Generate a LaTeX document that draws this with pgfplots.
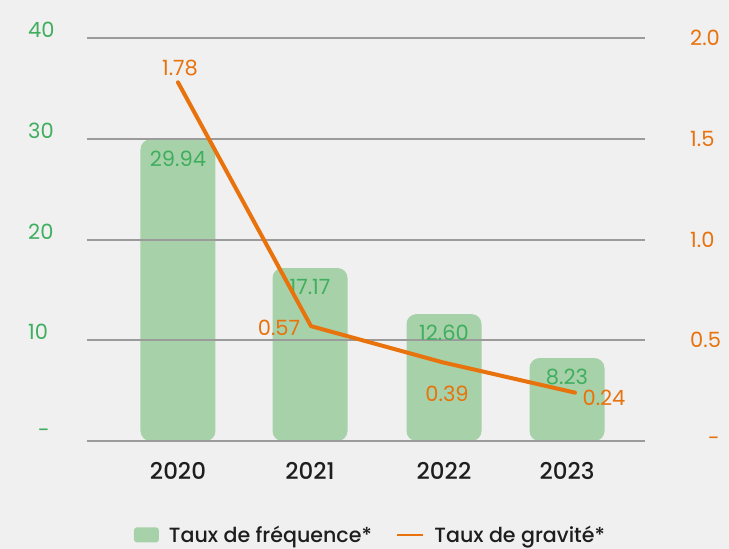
\documentclass[border=0pt]{standalone}
\usepackage{fontspec}
\setmainfont{Poppins}
\newfontfamily\medfont{Poppins Medium}
\usepackage{pgfplots}
\pgfplotsset{compat=1.18}
\definecolor{bg}{HTML}{F0F0F0}
\definecolor{barg}{HTML}{A7D1A9}
\definecolor{txtg}{HTML}{3FAE5E}
\definecolor{org}{HTML}{E8720C}
\definecolor{gridc}{HTML}{9B9B9B}
\definecolor{txtd}{HTML}{1E1E1E}
\newcommand{\lf}{\fontsize{21}{25}\selectfont}
\pgfplotstableread{
x y lab
91 29.94 29.94
223 17.17 17.17
357 12.60 12.60
480 8.23 8.23
}\freq
\pgfplotstableread{
x y lab dx dy
91 1.78 1.78 2 14
224 0.57 0.57 -32 -2
356 0.39 0.39 4 -31
488 0.24 0.24 29 -5
}\grav
\begin{document}
\begin{tikzpicture}[x=1pt,y=1pt]
\path[use as bounding box] (-87,-108) rectangle (642,441);
\fill[bg] (-87,-108) rectangle (642,441);
\begin{axis}[
  at={(0,0)}, anchor=south west,
  scale only axis, width=558pt, height=403pt,
  xmin=0, xmax=558, ymin=0, ymax=40,
  axis on top,
  axis line style={draw=none},
  tick style={draw=none},
  ymajorgrids, grid style={gridc, line width=2pt},
  /pgf/number format/assume math mode=true,
  ytick={0,10,20,30,40},
  yticklabels={\hspace{10pt}-,10,20,30,40},
  yticklabel style={font=\lf, text=txtg, anchor=west, inner sep=0pt, xshift=-59pt, yshift=8pt},
  xtick={91,223,357,480},
  xticklabels={2020,2021,2022,2023},
  xticklabel style={font=\medfont\fontsize{23}{27}\selectfont, text=txtd, anchor=center, inner sep=0pt, yshift=-30pt},
  legend style={at={(0.508,-0.233)}, anchor=center, draw=none, fill=none,
    font=\medfont\fontsize{20.6}{24}\selectfont, text=txtd, legend columns=2,
    /tikz/every odd column/.append style={column sep=8pt},
    /tikz/every even column/.append style={column sep=22pt}},
  legend cell align=left,
]
\addplot[ybar, bar width=75pt, fill=barg, draw=none, rounded corners=10pt,
  nodes near coords, point meta=explicit symbolic,
  every node near coord/.append style={font=\lf, text=txtg, anchor=center, yshift=-19pt},
  legend image code/.code={\fill[barg, rounded corners=3pt] (0pt,-7.5pt) rectangle (25pt,7.5pt);}]
  table[x=x, y=y, meta=lab]{\freq};
\addlegendentry{Taux de fréquence*}
\addlegendimage{legend image code/.code={\draw[org, line width=2.5pt] (0pt,0pt) -- (26pt,0pt);}}
\addlegendentry{Taux de gravité*}
\end{axis}
\begin{axis}[
  at={(0,0)}, anchor=south west,
  scale only axis, width=558pt, height=403pt,
  xmin=0, xmax=558, ymin=0, ymax=2,
  hide x axis,
  axis y line*=right,
  axis line style={draw=none},
  tick style={draw=none},
  /pgf/number format/assume math mode=true,
  ytick={0,0.5,1,1.5,2},
  yticklabels={\hspace{18pt}-,0.5,1.0,1.5,2.0},
  yticklabel style={font=\lf, text=org, anchor=west, inner sep=0pt, xshift=45pt},
  clip=false,
]
\addplot[org, line width=4pt, line join=round, line cap=round, mark=none,
  nodes near coords, point meta=explicit symbolic,
  visualization depends on={\thisrow{dx} \as \dx},
  visualization depends on={\thisrow{dy} \as \dy},
  every node near coord/.append style={font=\lf, text=org, anchor=center, xshift=\dx pt, yshift=\dy pt}]
  table[x=x, y=y, meta=lab]{\grav};
\end{axis}
\end{tikzpicture}
\end{document}
